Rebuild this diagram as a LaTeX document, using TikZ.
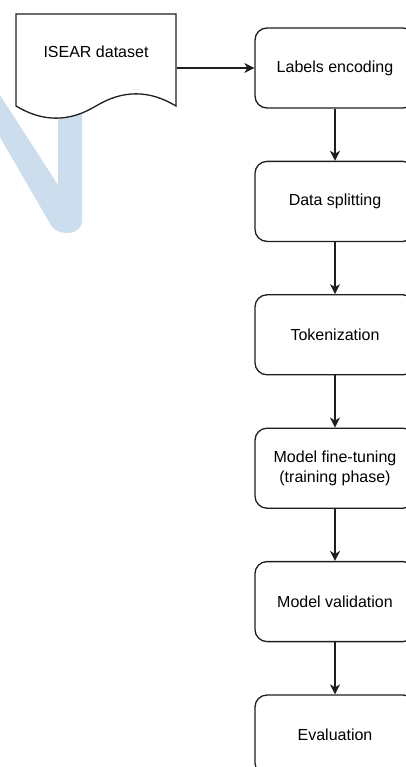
\documentclass[tikz,border=0pt]{standalone}
\usepackage{xcolor}
\usepackage{fontspec}
\setmainfont{Liberation Sans}
\usepackage{tikz}
\usetikzlibrary{arrows.meta}
\usetikzlibrary{positioning}

\definecolor{watermark}{RGB}{204,222,238}
\definecolor{edge}{RGB}{30,30,30}

\begin{document}
\begin{tikzpicture}[
		x=1pt,
		y=-1pt,
		font=\fontsize{16pt}{20pt}\selectfont,
		>={Stealth[length=10,width=10,inset=3]},
		node distance=52.1pt,
		line width=1.3
	]
		\tikzset{stage/.style={
			draw=edge,
			fill=white,
			rectangle,
			rounded corners=12,
			minimum width=160,
			minimum height=80,
			align=center,
		}}
		\useasboundingbox (0,0) rectangle (406,767);

		% logo behind the dataset sheet
		\fill[watermark] (-36,75) -- (-13,75) -- (58,185) -- (58,110) -- (82,110) -- (82,220)
			.. controls (82,236) and (60,236) .. (52,227) -- cycle;

		% sheet with wavy bottom
		\draw[edge, fill=white] (16,14) -- (176,14) -- (176,106)
			.. controls (149.3,89.8) and (122.7,89.8) .. (96,106)
			.. controls (69.3,122.2) and (42.7,122.2) .. (16,106) -- cycle;
		\node[minimum width=160] (isear) at (96,52) {ISEAR dataset};

		\node[stage] (labels) at (335,68) {Labels encoding};
		\node[stage, below=of labels] (split) {Data splitting};
		\node[stage, below=of split] (token) {Tokenization};
		\node[stage, below=of token] (finetune) {Model fine-tuning\\(training phase)};
		\node[stage, below=of finetune] (valid) {Model validation};
		\node[stage, below=of valid] (eval) {Evaluation};

		\draw[edge, ->] (isear.east |- labels) -- (labels);
		\foreach \a/\b in {labels/split, split/token, token/finetune, finetune/valid, valid/eval}
			\draw[edge, ->] (\a) -- (\b);
	\end{tikzpicture}
\end{document}
